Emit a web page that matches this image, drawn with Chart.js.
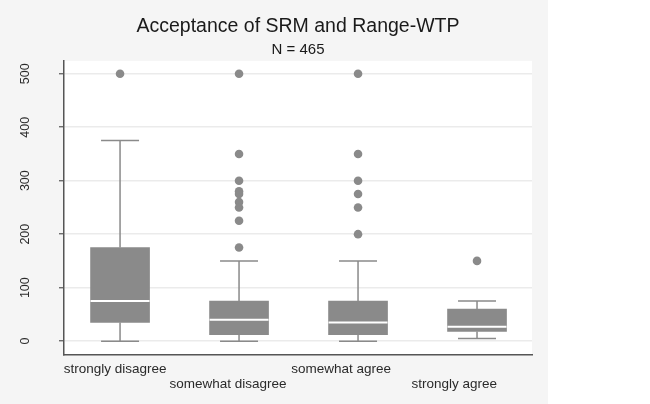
<!DOCTYPE html>
<html>
<head>
<meta charset="utf-8">
<script src="https://cdn.jsdelivr.net/npm/chart.js@4.4.0/dist/chart.umd.min.js"></script>
<style>
  body { margin: 0; background: #ffffff; }
  #wrap { width: 548px; height: 404px; }
</style>
</head>
<body>
<div id="wrap"><canvas id="mycanvas" width="548" height="404"></canvas></div>
<script>
// values
var categories = ["strongly disagree", "somewhat disagree", "somewhat agree", "strongly agree"];
var lowerWhisker = [0, 0, 0, 5];
var q1 = [35, 12, 12, 18];
var median = [75, 40, 35, 27];
var q3 = [175, 75, 75, 60];
var upperWhisker = [375, 150, 150, 75];
var outliers = [
	[500],
	[500, 350, 300, 280, 275, 260, 250, 225, 175],
	[500, 350, 300, 275, 250, 200],
	[150]
];
var yTicks = [0, 100, 200, 300, 400, 500];

var FONT = "'Liberation Sans', Arial, Helvetica, sans-serif";
var GREY = "#8a8a8a";

// box bodies and outlier points
var boxData = [];
var dotData = [];
for (var i in categories) {
	var x = Number(i) + 1;
	boxData.push({x: x, y: [q1[i], q3[i]]});
	for (var j in outliers[i]) {
		dotData.push({x: x, y: outliers[i][j]});
	}
}

// label centres sit a little left of the boxes, like the original
var labelPos = [0.958, 1.908, 2.858, 3.808];

var bgPlugin = {
	id: "bg",
	beforeDraw: function(chart) {
		var c = chart.ctx, a = chart.chartArea;
		c.save();
		c.fillStyle = "#f5f5f5";
		c.fillRect(0, 0, chart.width, chart.height);
		c.fillStyle = "#ffffff";
		c.fillRect(a.left, a.top, a.right - a.left, a.bottom - a.top);
		c.restore();
	}
};

// whiskers, caps and white median line
var whiskerPlugin = {
	id: "whiskers",
	afterDatasetsDraw: function(chart) {
		var c = chart.ctx;
		var xs = chart.scales.x, ys = chart.scales.y;
		var capHalf = 19, boxHalf = 29.5;
		c.save();
		for (var i = 0; i < categories.length; i++) {
			var px = xs.getPixelForValue(i + 1);
			c.strokeStyle = GREY;
			c.lineWidth = 1.5;
			c.beginPath();
			c.moveTo(px, ys.getPixelForValue(q3[i]));
			c.lineTo(px, ys.getPixelForValue(upperWhisker[i]));
			c.moveTo(px, ys.getPixelForValue(q1[i]));
			c.lineTo(px, ys.getPixelForValue(lowerWhisker[i]));
			c.moveTo(px - capHalf, ys.getPixelForValue(upperWhisker[i]));
			c.lineTo(px + capHalf, ys.getPixelForValue(upperWhisker[i]));
			c.moveTo(px - capHalf, ys.getPixelForValue(lowerWhisker[i]));
			c.lineTo(px + capHalf, ys.getPixelForValue(lowerWhisker[i]));
			c.stroke();
			c.strokeStyle = "#ffffff";
			c.lineWidth = 2;
			c.beginPath();
			c.moveTo(px - boxHalf, ys.getPixelForValue(median[i]));
			c.lineTo(px + boxHalf, ys.getPixelForValue(median[i]));
			c.stroke();
		}
		c.restore();
	}
};

var ctx = document.getElementById("mycanvas");
var BoxChart = new Chart(ctx, {
	type: "bar",
	data: {
		datasets: [
			{
				type: "scatter",
				label: "outliers",
				data: dotData,
				backgroundColor: GREY,
				borderWidth: 0,
				pointRadius: 4.3
			},
			{
				label: "box",
				data: boxData,
				backgroundColor: GREY,
				borderWidth: 0,
				barThickness: 59,
				grouped: false
			}
		]
	},
	options: {
		responsive: false,
		animation: false,
		devicePixelRatio: 1,
		layout: { padding: { left: 0, right: 16, top: 0, bottom: 0 } },
		plugins: {
			legend: { display: false },
			tooltip: { enabled: false },
			title: {
				display: true,
				text: "Acceptance of SRM and Range-WTP",
				fullSize: false,
				color: "#1a1a1a",
				font: { family: FONT, size: 19.5, weight: "normal", lineHeight: 1.2 },
				padding: { top: 15, bottom: 0 }
			},
			subtitle: {
				display: true,
				text: "N = 465",
				fullSize: false,
				color: "#1a1a1a",
				font: { family: FONT, size: 15, weight: "normal", lineHeight: 1.2 },
				padding: { top: 2, bottom: 2.5 }
			}
		},
		scales: {
			x: {
				type: "linear",
				offset: false,
				min: 0.529,
				max: 4.462,
				afterBuildTicks: function(s) {
					s.ticks = labelPos.map(function(v) { return {value: v}; });
				},
				afterFit: function(s) { s.height = 49.5; },
				grid: { display: false, drawTicks: false, offset: false },
				border: { display: true, color: "#555555", width: 1.5 },
				ticks: {
					autoSkip: false,
					maxRotation: 0,
					padding: 7,
					color: "#2a2a2a",
					font: { family: FONT, size: 13.5, lineHeight: 1.12 },
					callback: function(v, idx) {
						return idx % 2 ? ["", categories[idx]] : categories[idx];
					}
				}
			},
			y: {
				min: -25,
				max: 524,
				afterBuildTicks: function(s) {
					s.ticks = yTicks.map(function(v) { return {value: v}; });
				},
				afterFit: function(s) { s.width = 64; },
				grid: {
					color: "#ebebeb",
					lineWidth: 1.5,
					drawTicks: true,
					tickLength: 5,
					tickColor: "#555555",
					tickWidth: 1.2
				},
				border: { display: true, color: "#555555", width: 1.5 },
				ticks: {
					minRotation: 90,
					maxRotation: 90,
					crossAlign: "center",
					padding: 23,
					color: "#2a2a2a",
					font: { family: FONT, size: 12.5 }
				}
			}
		}
	},
	plugins: [bgPlugin, whiskerPlugin]
});
</script>
</body>
</html>
